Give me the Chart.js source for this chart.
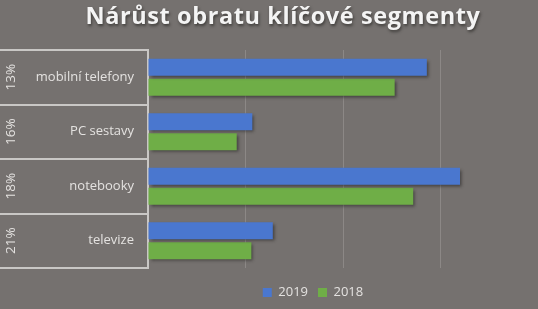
<!DOCTYPE html>
<html>
<head>
<meta charset="utf-8">
<script src="https://cdn.jsdelivr.net/npm/chart.js@4"></script>
<style>
  html, body { margin: 0; padding: 0; background: #75716f; }
  #wrap { width: 538px; height: 309px; }
</style>
</head>
<body>
<div id="wrap"><canvas id="chart"></canvas></div>
<script>
// ── Data ──
const chartTitle   = 'Nárůst obratu klíčové segmenty';
const categories   = ['mobilní telefony', 'PC sestavy', 'notebooky', 'televize'];
const shares       = ['13%', '16%', '18%', '21%'];
const seriesLabels = ['2019', '2018'];
const values2019   = [2.86, 1.07, 3.20, 1.28];
const values2018   = [2.53, 0.91, 2.72, 1.06];

const BG    = '#75716f';
const TEXT  = '#e4e2e0';
const LINE  = '#c9c7c5';

// ── Custom drawing: background, bar shadows, left table labels, title ──
const decor = {
  id: 'decor',
  beforeDraw(chart) {
    const ctx = chart.ctx;
    ctx.save();
    ctx.fillStyle = BG;
    ctx.fillRect(0, 0, chart.width, chart.height);
    ctx.restore();
  },
  afterLayout(chart) {
    // nudge the legend left and down so it sits under the bars like the original
    const lg = chart.legend;
    lg.left   -= 60;
    lg.top    += 8;
    lg.bottom += 8;
  },
  beforeDatasetsDraw(chart) {
    const ctx = chart.ctx;
    ctx.save();
    ctx.shadowColor   = 'rgba(30,28,27,0.55)';
    ctx.shadowBlur    = 3;
    ctx.shadowOffsetX = 2;
    ctx.shadowOffsetY = 2;
  },
  afterDatasetsDraw(chart) {
    chart.ctx.restore();
  },
  afterDraw(chart) {
    const ctx = chart.ctx;
    const y   = chart.scales.y;
    const left = chart.chartArea.left;

    ctx.save();
    ctx.fillStyle = TEXT;
    ctx.textBaseline = 'middle';
    categories.forEach((cat, i) => {
      const py = y.getPixelForValue(i);
      ctx.font = '13px "Open Sans"';
      ctx.textAlign = 'right';
      ctx.fillText(cat, left - 14, py);

      ctx.save();
      ctx.translate(11, py);
      ctx.rotate(-Math.PI / 2);
      ctx.textAlign = 'center';
      ctx.font = '13.5px "Open Sans"';
      ctx.fillText(shares[i], 0, 0);
      ctx.restore();
    });

    // title with soft shadow
    ctx.font = 'bold 23.5px "Open Sans"';
    ctx.letterSpacing = '0.6px';
    ctx.textAlign = 'center';
    ctx.textBaseline = 'alphabetic';
    ctx.shadowColor = 'rgba(40,38,36,0.7)';
    ctx.shadowBlur = 3;
    ctx.shadowOffsetX = 1;
    ctx.shadowOffsetY = 2;
    ctx.fillStyle = '#f4f4f4';
    ctx.fillText(chartTitle, 283, 24);
    ctx.restore();
  }
};

new Chart(document.getElementById('chart'), {
  type: 'bar',
  data: {
    labels: categories,
    datasets: [
      { label: seriesLabels[0], data: values2019, backgroundColor: '#4a77cf' },
      { label: seriesLabels[1], data: values2018, backgroundColor: '#6fae47' },
    ],
  },
  options: {
    indexAxis: 'y',
    responsive: true,
    maintainAspectRatio: false,
    animation: false,
    categoryPercentage: 0.735,
    barPercentage: 0.85,
    layout: { padding: { top: 50, right: 0, left: 0, bottom: 8 } },
    plugins: {
      title:   { display: false },
      tooltip: { enabled: false },
      legend: {
        position: 'bottom',
        fullSize: false,
        labels: {
          color: TEXT,
          boxWidth: 9,
          boxHeight: 9,
          padding: 10,
          font: { family: 'Open Sans', size: 13 },
        },
      },
    },
    scales: {
      x: {
        min: 0,
        max: 4,
        ticks: { display: false, stepSize: 1 },
        border: { display: false },
        grid: {
          drawTicks: false,
          color: ctx => ctx.tick && ctx.tick.value === 0 ? 'rgba(0,0,0,0)' : '#8c8886',
          lineWidth: 1,
        },
      },
      y: {
        ticks: { display: false },
        border: { display: true, color: LINE, width: 2 },
        grid: {
          offset: true,
          drawOnChartArea: false,
          drawTicks: true,
          tickLength: 148,
          color: LINE,
          lineWidth: 2,
        },
      },
    },
  },
  plugins: [decor],
});
</script>
</body>
</html>
